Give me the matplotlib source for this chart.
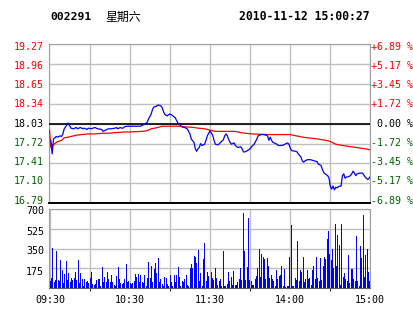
import numpy as np
import matplotlib
matplotlib.use("Agg")
import matplotlib.pyplot as plt
from matplotlib.transforms import ScaledTranslation

# 분시 가격 (분, 가격)
price_min = [1, 2, 3, 4, 5, 6, 8, 9, 10, 11, 13, 14, 15, 16, 18, 19, 20, 21, 23, 24,
             25, 26, 28, 29, 31, 34, 35, 36, 39, 40, 41, 43, 44, 46, 49, 50, 51, 53, 54, 55,
             56, 58, 60, 68, 70, 73, 74, 76, 77, 78, 80, 81, 83, 84, 85, 86, 88, 89, 90, 91,
             93, 94, 95, 96, 98, 99, 101, 103, 105, 106, 108, 109, 110, 111, 112, 113, 114, 116, 117, 118,
             120, 122, 123, 124, 126, 127, 128, 130, 131, 132, 133, 134, 135, 136, 138, 139, 140, 141, 143, 144,
             145, 146, 148, 150, 151, 153, 155, 156, 158, 160, 162, 163, 164, 165, 166, 167, 169, 170, 171, 174,
             176, 178, 179, 180, 181, 184, 185, 186, 188, 189, 190, 191, 193, 195, 198, 200, 201, 203, 204, 205,
             206, 208, 209, 210, 211, 212, 213, 214, 215, 216, 218, 219, 220, 221, 222, 223, 225, 226, 227, 228,
             229, 230, 232, 234, 235, 236, 238, 239, 240]
price = [17.77, 17.56, 17.79, 17.81, 17.83, 17.82, 17.84, 17.83, 17.87, 17.95, 18.01, 18.04, 18.00, 17.96, 17.95, 17.96, 17.97, 17.95, 17.97, 17.96,
         17.95, 17.96, 17.94, 17.96, 17.95, 17.97, 17.96, 17.95, 17.94, 17.91, 17.92, 17.94, 17.95, 17.95, 17.96, 17.97, 17.95, 17.97, 17.96, 17.96,
         17.98, 17.99, 17.99, 17.99, 18.01, 18.05, 18.10, 18.18, 18.25, 18.29, 18.30, 18.32, 18.31, 18.29, 18.23, 18.18, 18.15, 18.17, 18.18, 18.17,
         18.14, 18.12, 18.08, 18.04, 18.00, 17.98, 17.97, 17.95, 17.87, 17.79, 17.74, 17.64, 17.60, 17.64, 17.66, 17.72, 17.69, 17.71, 17.77, 17.84,
         17.92, 17.85, 17.77, 17.71, 17.70, 17.72, 17.74, 17.78, 17.84, 17.87, 17.84, 17.78, 17.74, 17.71, 17.73, 17.69, 17.67, 17.66, 17.67, 17.64,
         17.59, 17.59, 17.61, 17.64, 17.67, 17.71, 17.79, 17.84, 17.86, 17.86, 17.85, 17.84, 17.77, 17.82, 17.77, 17.74, 17.72, 17.71, 17.69, 17.69,
         17.71, 17.73, 17.71, 17.65, 17.61, 17.60, 17.59, 17.56, 17.51, 17.45, 17.43, 17.45, 17.47, 17.47, 17.45, 17.44, 17.40, 17.38, 17.32, 17.27,
         17.25, 17.22, 17.18, 17.05, 17.01, 17.06, 17.00, 17.04, 17.03, 17.05, 17.06, 17.22, 17.25, 17.18, 17.20, 17.20, 17.22, 17.25, 17.29, 17.26,
         17.22, 17.25, 17.26, 17.26, 17.23, 17.20, 17.16, 17.18, 17.21]

# 균가선
avg_min = [0, 1, 3, 4, 6, 9, 11, 14, 16, 20, 24, 29, 34, 39, 44, 49, 56, 59, 69, 73,
           76, 81, 84, 96, 108, 111, 116, 120, 124, 139, 143, 151, 164, 180, 189, 201, 209, 214, 219, 229,
           236, 240]
avg_price = [17.93, 17.66, 17.70, 17.72, 17.75, 17.77, 17.81, 17.82, 17.83, 17.85, 17.86, 17.87, 17.87, 17.88, 17.88, 17.89, 17.90, 17.90, 17.91, 17.92,
             17.95, 17.97, 17.99, 17.99, 17.97, 17.96, 17.95, 17.93, 17.91, 17.91, 17.89, 17.87, 17.86, 17.86, 17.82, 17.79, 17.76, 17.71, 17.69, 17.66,
             17.64, 17.62]

# 거래량 (분당)
vol_am = [62, 89, 356, 53, 68, 332, 68, 62, 249, 160,
          42, 125, 240, 71, 133, 53, 89, 68, 89, 142,
          71, 249, 44, 133, 80, 18, 80, 53, 62, 44,
          89, 142, 36, 27, 36, 71, 80, 80, 18, 187,
          53, 98, 53, 142, 80, 53, 116, 53, 27, 18,
          107, 187, 80, 44, 36, 44, 80, 214, 53, 62,
          42, 36, 44, 62, 125, 98, 125, 53, 116, 53,
          44, 116, 18, 89, 231, 89, 196, 53, 169, 222,
          133, 267, 53, 80, 36, 18, 98, 89, 36, 18,
          116, 53, 18, 116, 53, 116, 187, 98, 18, 62,
          53, 80, 116, 27, 18, 178, 214, 178, 285, 276,
          222, 338, 62, 133, 18, 258, 400, 62, 142, 107,
          187]
vol_pm = [145, 85, 75, 175, 85, 30, 65, 80, 15, 330,
          15, 20, 40, 140, 60, 100, 30, 150, 30, 30,
          50, 80, 180, 75, 665, 330, 75, 190, 620, 70,
          60, 30, 30, 80, 110, 175, 350, 100, 300, 280,
          260, 80, 270, 200, 90, 120, 80, 60, 15, 160,
          80, 110, 120, 200, 20, 165, 10, 20, 15, 280,
          560, 15, 20, 90, 75, 420, 60, 160, 140, 280,
          50, 80, 160, 80, 85, 30, 160, 200, 80, 280,
          90, 60, 270, 70, 200, 280, 260, 440, 510, 300,
          250, 350, 180, 565, 200, 470, 380, 30, 565, 100,
          130, 80, 60, 290, 45, 165, 170, 80, 60, 460,
          60, 20, 370, 265, 650, 100, 290, 350, 140, 60]

price_ticks = [19.27, 18.96, 18.65, 18.34, 18.03, 17.72, 17.41, 17.10, 16.79]
pct_labels = ['+6.89 %', '+5.17 %', '+3.45 %', '+1.72 %', ' 0.00 %',
              '-1.72 %', '-3.45 %', '-5.17 %', '-6.89 %']
vol_ticks = [175, 350, 525, 700]
time_ticks = [0, 60, 120, 180, 240]
time_labels = ['09:30', '10:30', '11:30', '14:00', '15:00']
prev_close = 18.03

RED = '#ff0000'
GREEN = '#006400'
GRID = '#c0c0c0'
MONO = 'DejaVu Sans Mono'
FS = 7.2

W, H = 414, 314
fig = plt.figure(figsize=(W / 100, H / 100), dpi=100)
fig.patch.set_facecolor('white')


def box(x0, y0, x1, y1):
    return [x0 / W, 1 - y1 / H, (x1 - x0) / W, (y1 - y0) / H]


def shift(dx, dy):
    # 픽셀 단위 오프셋 (+dy 는 아래쪽)
    return ScaledTranslation(dx / 100, -dy / 100, fig.dpi_scale_trans)


def color_of(v):
    if v > prev_close:
        return RED
    if v == prev_close:
        return 'black'
    return GREEN


# 가격 차트
ax = fig.add_axes(box(49.5, 44, 370.5, 203.3))
ax.set_xlim(0, 240)
ax.set_ylim(16.79, 19.27)
ax.set_yticks(price_ticks)
ax.set_xticks(range(0, 241, 30))
ax.tick_params(length=0, labelleft=False, labelbottom=False)
ax.grid(True, color=GRID, lw=1.0)
ax.axhline(prev_close, color='black', lw=1.2, zorder=3)
for s in ['top', 'left', 'right']:
    ax.spines[s].set_color('#a0a0a0')
ax.spines['bottom'].set_color('black')
ax.spines['bottom'].set_linewidth(1.4)
ax.plot(avg_min, avg_price, color=RED, lw=0.9, zorder=4)
ax.plot(price_min, price, color='#0000ff', lw=0.9, zorder=5)

ytr = ax.get_yaxis_transform()
for i, (v, pl) in enumerate(zip(price_ticks, pct_labels)):
    dy = 2.7 - 0.66 * i
    ax.text(0, v, f'{v:.2f}', transform=ytr + shift(-5.5, dy), ha='right', va='center',
            family=MONO, fontsize=FS, color=color_of(v))
    ax.text(1, v, pl, transform=ytr + shift(0.5, dy), ha='left', va='center',
            family=MONO, fontsize=FS, color=color_of(v))

# 거래량 차트
vol = vol_am + vol_pm
axv = fig.add_axes(box(49.5, 209.3, 370.5, 288))
axv.bar(np.arange(len(vol)), vol, width=0.75, color='#0000ff', linewidth=0, zorder=3)
axv.set_xlim(-0.5, 240.5)
axv.set_ylim(0, 700)
axv.set_yticks(vol_ticks)
axv.set_yticklabels([])
axv.set_xticks(time_ticks)
axv.set_xticklabels(time_labels, family=MONO, fontsize=FS)
axv.set_xticks(range(0, 241, 30), minor=True)
axv.tick_params(length=0, pad=5)
axv.grid(True, which='both', color=GRID, lw=1.0)
for s in axv.spines.values():
    s.set_color('#a0a0a0')
axv.spines['bottom'].set_color('#606060')

vtr = axv.get_yaxis_transform()
for v, dy in zip(vol_ticks, [4.0, 2.5, 3.0, 2.0]):
    axv.text(0, v, str(v), transform=vtr + shift(-5.5, dy), ha='right', va='center',
             family=MONO, fontsize=FS, color='black')

# 상단 제목
fig.text(50 / W, 1 - 17 / H, '002291', family=MONO, weight='bold', fontsize=8.2, va='center')
fig.text(105 / W, 1 - 17 / H, '星期六', family=['Noto Sans CJK SC', 'DejaVu Sans'], fontsize=8.6, va='center')
fig.text(370 / W, 1 - 17 / H, '2010-11-12 15:00:27', family=MONO, weight='bold', fontsize=8.3,
         va='center', ha='right')

fig.savefig('out.png', dpi=100)
